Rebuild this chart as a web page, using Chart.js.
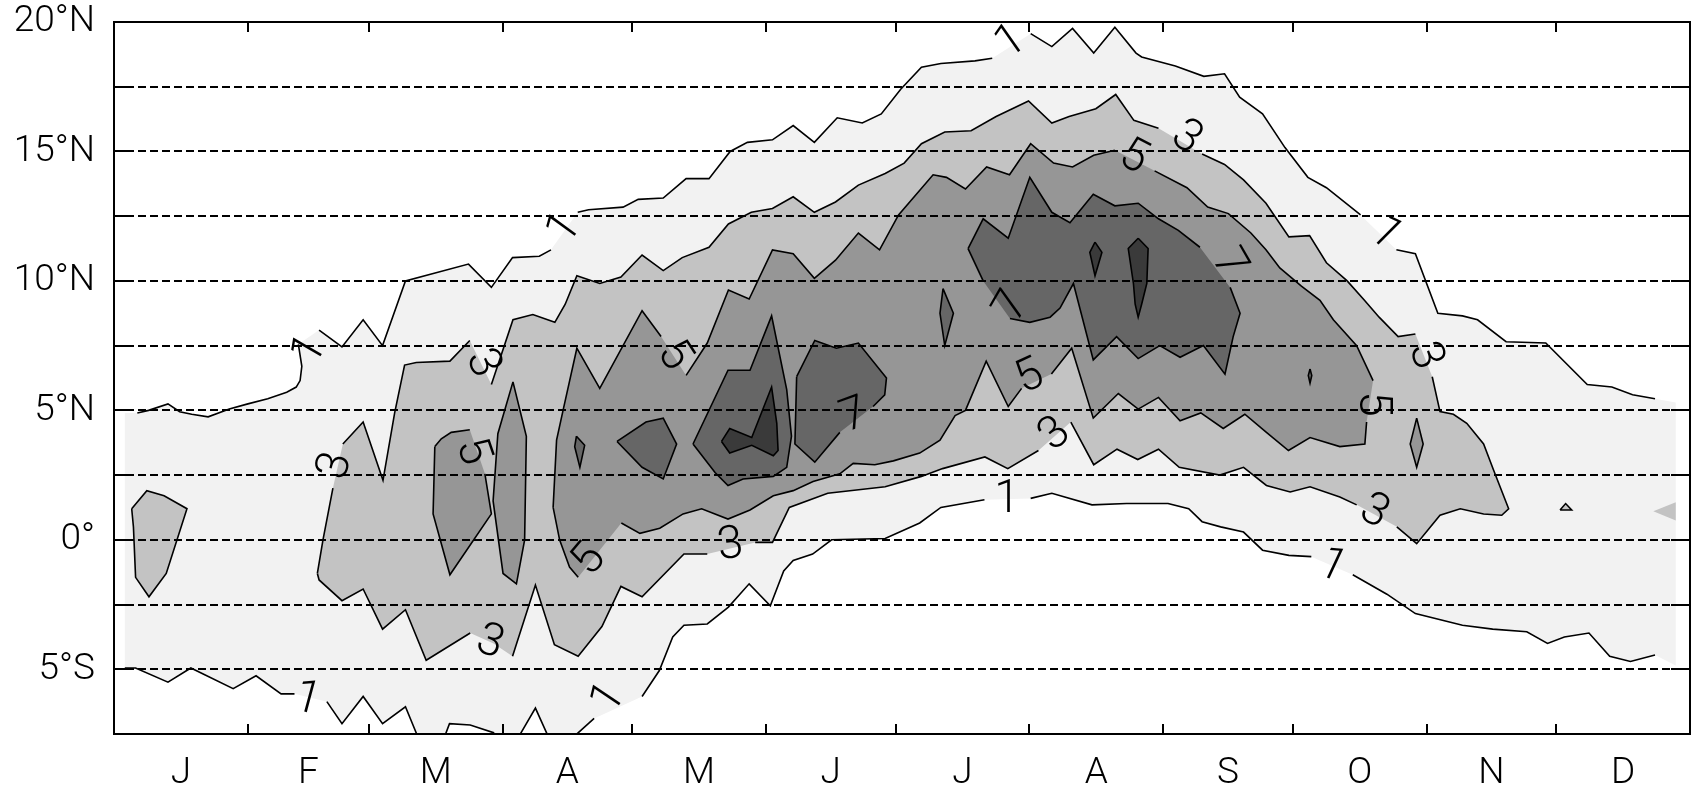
<!DOCTYPE html>
<html><head><meta charset="utf-8">
<script src="https://cdn.jsdelivr.net/npm/chart.js@4.4.1/dist/chart.umd.min.js"></script>
<style>html,body{margin:0;padding:0;background:#fff}#wrap{width:1692px;height:785px}</style>
</head><body><div id="wrap"><canvas id="c" width="1692" height="785"></canvas></div>
<script>
// ---- axes ----
const monthNames = ['J','F','M','A','M','J','J','A','S','O','N','D'];
const monthStartDays = [0,31,59,90,120,151,181,212,243,273,304,334,365];
const latTickValues = [-5,-2.5,0,2.5,5,7.5,10,12.5,15,17.5,20];
const latTickText = {'20':'20°N','15':'15°N','10':'10°N','5':'5°N','0':'0°','-5':'5°S'};

// ---- contour regions: [day of year, latitude, 1 = no line drawn on the following edge] ----
const level1Region = [[2.5,4.9,1],[5.4,4.9],[8,5.0],[12.5,5.25],[15.2,4.95],[18,4.85],[21.8,4.75],[26.7,5.05],[31,5.25],[35.6,5.45],[40,5.7],[42.2,5.9],[43.1,6.15],[43.5,6.7],[42.7,7.55,1],[47.5,8.1],[52.8,7.45],[57.7,8.5],[62.2,7.5],[67.5,10.0],[82.1,10.65],[87.4,9.75],[92.3,10.9],[98.5,10.95],[101.2,11.2,1],[107.4,12.65],[109.9,12.75],[117.9,12.85],[121.4,13.15],[127.2,13.2],[132.5,13.95],[137.8,13.95],[142.7,15.0],[146.7,15.35],[152.5,15.45],[157.3,16.0],[162.2,15.35],[167.5,16.3],[173.3,16.1],[177.7,16.45],[182.2,17.4],[187,18.25],[191.5,18.4],[199.4,18.5],[203.4,18.6,1],[212.3,19.55],[217.2,19.05],[222,19.75],[226.9,18.8],[231.8,19.8],[236.7,18.8],[238,18.65],[245.8,18.3],[252.4,17.9],[257.2,18.0],[260.7,17.1],[266,16.45],[271.2,15.15],[276.5,14.0],[280.8,13.6],[288.7,12.55,1],[297,11.2],[301.4,11.05],[306.6,8.75],[312.3,8.65],[315.8,8.5],[322.4,7.65],[331.6,7.6],[341.2,6.0],[346.9,5.9],[351.7,5.6],[356.9,5.45,1],[361.7,5.3,1],[361.7,-4.85,1],[356.9,-4.45],[351.2,-4.7],[346.4,-4.5],[341.6,-3.6],[335.9,-3.75],[332,-4.0],[327.2,-3.55],[319.3,-3.45],[312.3,-3.3],[301.4,-2.85],[294.8,-2.1],[286.9,-1.35,1],[277.3,-0.65],[272.1,-0.6],[266,-0.4],[261.6,0.3],[256.3,0.5],[252,0.7],[248.9,1.2],[244.1,1.4],[234.5,1.4],[226.5,1.35],[217.2,1.8],[212.3,1.6,1],[201.6,1.55],[191.5,1.25],[186.6,0.65],[178.6,0.05],[166.2,0],[161.8,-0.55],[157.3,-0.8],[155.1,-1.2],[152,-2.55],[147.1,-1.7],[142.3,-2.6],[137.4,-3.25],[132,-3.3],[129.4,-3.75],[126.3,-5.05],[122.3,-6.05,1],[111.2,-6.9],[107.2,-7.5],[106,-8.5],[101,-8.5],[100.3,-7.5],[97.6,-6.5],[94.1,-7.5],[93,-8.5],[89,-8.5],[87.9,-7.45],[82.5,-7.15],[77.7,-7.1],[76.8,-7.5],[76,-8.5],[72,-8.5],[70.1,-7.5],[67.5,-6.45],[62.2,-7.1],[57.7,-6.05],[52.8,-7.1],[49.3,-6.25,1],[41.8,-5.95],[38.7,-5.95],[32.9,-5.25],[27.6,-5.75],[17.8,-4.95],[12.5,-5.5],[5,-4.95],[2.5,-4.95,1]];

const level3Main = [[47.1,-1.3],[48.4,0],[50.7,2.0,1],[53,3.7],[57.7,4.55],[62.3,2.3],[65,4.9],[67.3,6.75],[70,6.85],[77.8,6.9],[82.4,7.7,1],[87.4,6.0],[92.4,8.5],[97,8.7],[102.1,8.4],[104.5,9.1],[107.2,10.2],[112.5,9.9],[117.4,10.15],[122.3,11.0],[127.2,10.4],[131.6,10.9],[137.8,11.3],[142.3,12.2],[147.6,12.65],[152.5,12.8],[157.3,13.25],[162.2,12.65],[167.1,13.05],[172.4,13.7],[178.6,14.15],[183,14.55],[187,15.3],[192.4,15.75],[198.5,15.8],[204.3,16.35],[211.8,16.95],[217.2,16.1],[221.2,16.35],[227.4,16.65],[232,17.2],[236.2,16.2],[241.9,15.9,1],[252,14.9],[257.2,14.5],[261.6,13.9],[266.8,13.0],[272.1,11.7],[276.9,11.75],[280.8,10.7],[285.6,10.0],[289.6,9.25],[293,8.6],[297.4,7.85],[301.4,7.95,1],[305.3,6.3],[307.1,4.95],[310.2,4.85],[313.3,4.5],[317.2,3.7],[319.5,2.7],[323,1.2],[321.4,0.95],[317.2,1.0],[311.8,1.2],[307.1,0.95],[301.7,-0.15],[297.1,0.5,1],[287.8,1.35],[283.9,1.65],[277,2.05],[272.4,1.85],[266.9,2.1],[261.6,2.8],[256.1,2.5],[246.7,2.8],[241.9,3.5],[237.1,3.1],[232.3,3.5],[226.9,2.9],[221.6,4.55,1],[214.1,3.45],[207,2.75],[201.7,3.2],[191.9,2.75],[187,2.45],[178.6,2.05],[165.3,1.8],[156.4,1.25],[152.5,-0.1],[148.5,-0.1,1],[137.4,-0.55],[132,-0.55],[122.3,-2.2],[117.4,-1.8],[113,-3.35],[107.5,-4.5],[102,-4.05],[97.6,-1.75],[92.3,-4.5,1],[87.9,-4.0,1],[82.5,-3.6],[72.3,-4.65],[67.5,-2.7],[62.2,-3.45],[57.7,-1.9],[52.8,-2.35],[47.5,-1.55]];
const level3Jan = [[4.1,1.2],[7.6,1.9],[11.6,1.7],[16.9,1.2],[12.1,-1.3],[8.1,-2.2],[5,-1.45],[4.5,0.5]];
const level3Nov = [[334.9,1.15],[336.2,1.4],[337.6,1.15]];
const level3Dec = [[356.5,1.1,1],[361.7,1.45,1],[361.7,0.75,1]];

const level5Mar = [[74.3,3.6],[75.8,3.9],[78.1,4.15],[82.4,4.25,1],[85.9,2.55],[87.4,1.0],[77.8,-1.35],[73.9,1.0]];
const level5Apr = [[92.4,6.1],[95.5,4.0],[95.1,0],[93.2,-1.7],[90.1,-1.3],[87.8,1.5],[88.9,4.1]];
const level5Main = [[101.7,1.25],[102.5,3.85],[104,5.0],[107.2,7.4],[112.5,5.85],[122.3,8.85],[126.7,7.85,1],[132.5,6.35],[137.4,7.6],[142.3,9.65],[147.1,9.3],[152.5,11.2],[157.3,11.05],[162.2,10.1],[167.1,10.8],[172.4,11.85],[177.3,11.2],[181.7,12.55],[189.7,14.1],[192.8,14.0],[197.2,13.55],[202.1,14.4],[207.4,14.1],[212.3,15.3],[217.6,14.55],[222,14.4],[226.9,14.85],[231.8,15.05,1],[241,14.25],[248.5,13.6],[253.3,12.85],[258.1,12.6],[263.3,11.85],[266.8,11.2],[270,10.5],[275,9.8],[279.3,9.25],[282.4,8.5],[287.8,7.5],[291.6,6.15,1],[290.1,4.55],[289.7,3.7],[283.9,3.6],[277,3.95],[272,3.45],[266.9,4.15],[261.9,4.85],[256.9,4.3],[251.7,4.9],[246.9,4.6],[241.9,5.5],[237.2,5.05],[232.6,5.65],[226.8,4.7],[221.8,7.4],[217.1,6.4,1],[210.2,5.85],[207.1,5.15],[202,6.9],[197.2,5.0],[194.8,4.8],[191.3,3.85],[186.6,3.35],[180.5,3.05],[176.2,2.9],[171.2,2.95],[168.1,2.55],[161.9,2.25],[157.3,1.9],[152.7,1.7],[147.3,1.15],[142.2,0.8],[136.1,1.2],[131.8,1.0],[126.4,0.45],[121.8,0.25],[117.5,0.65,1],[107.5,-1.45],[105.5,-1.05],[103.2,0]];
const level5Oct = [[301.7,4.7],[303.2,3.7],[301.7,2.8],[300.2,3.7]];

const level7Apr = [[107.1,4.0],[109,3.65],[107.9,2.8],[106.7,3.6]];
const level7AprMay = [[116.5,3.8],[123.2,4.55],[127.2,4.7],[130.3,3.7],[127.2,2.35],[122.3,2.8]];
const level7May = [[134.1,3.7],[142.2,6.55],[147.3,6.55],[152.3,8.65],[155.8,5.8],[156.9,4.0],[155.8,2.8],[152.7,2.45],[145.7,2.35],[142.2,2.1],[139.2,2.6]];
const level7Jun = [[158.1,6.3],[162.3,7.7],[167.3,7.4],[172.4,7.6],[178.9,6.25],[178.5,5.6],[175.8,5.15,1],[168.1,4.15],[162.3,3.0],[157.7,3.7]];
const level7Jul = [[192,9.7],[194.4,8.75],[192.4,7.5],[191.3,8.75]];
const level7Aug = [[197.8,11.25],[201.3,12.4],[207.1,11.65],[212.1,14.0],[217.2,12.65],[221.4,12.25],[226.8,13.35],[231.8,12.9],[237.2,13.0],[241.9,12.4],[246.5,11.95],[251.5,11.3,1],[258.5,9.75],[260.8,8.75],[259.2,7.85],[257.3,6.4],[252.3,7.5],[246.9,7.05],[242.2,7.5],[237.2,7.0],[232.2,7.85],[226.8,6.95],[222.2,9.9],[219.1,8.95],[216.8,8.6],[212.1,8.4],[207.5,8.55,1],[201.3,10.0]];
const level7Oct = [[277,6.6],[277.4,6.35],[277,6.05],[276.6,6.35]];

const level9May = [[140.7,3.8],[142.6,4.3],[147.7,3.95],[152.3,5.9],[153.5,4.5],[153.8,3.45],[152.7,3.25],[147.7,3.65],[142.6,3.35]];
const level9AugA = [[227.2,11.5],[228.8,11.1],[227.2,10.2],[226,11.1]];
const level9AugB = [[237.2,11.65],[239.5,11.25],[239.2,9.9],[238,9.1],[237.2,8.6],[236.5,9.1],[236.1,9.9],[234.9,11.25]];

// ---- contour labels ----
const contourLabelText  = ['1','1','1','1','1','1','1','1','3','3','3','3','3','3','3','3','5','5','5','5','5','5','7','7','7'];
const contourLabelDay   = [45.5,104.5,207.8,294.3,44.7,114.7,206.8,282,51.5,85.2,87,142.8,218,248.3,303.5,291.8,82.8,110.2,129.5,212.2,236,291.3,171.5,208.2,258];
const contourLabelLat   = [7.3,12.0,19.2,11.8,-6.2,-6.15,1.5,-1.05,2.85,6.8,-4.0,-0.25,4.05,15.5,7.1,1.05,3.4,-0.8,7.1,6.25,14.75,5.25,4.75,9.0,10.65];
const contourLabelAngle = [-60,-54,-35,45,15,-56,0,25,-75,65,20,-8,-40,35,70,28,71,-50,57,-25,27,90,-20,-60,60];

const levelColor = {1:'#f2f2f2',3:'#c3c3c3',5:'#969696',7:'#666666',9:'#3a3a3a'};
const regions = [
  [level1Region,1],
  [level3Main,3],[level3Jan,3],[level3Nov,3],[level3Dec,3],
  [level5Mar,5],[level5Apr,5],[level5Main,5],[level5Oct,5],
  [level7Apr,7],[level7AprMay,7],[level7May,7],[level7Jun,7],[level7Jul,7],[level7Aug,7],[level7Oct,7],
  [level9May,9],[level9AugA,9],[level9AugB,9]
];

function toPoints(arr){
  const p = arr.map(v=>({x:v[0],y:v[1],h:v[2]?1:0}));
  p.push({x:arr[0][0],y:arr[0][1],h:0});
  return p;
}

const datasets = [];
regions.forEach(([arr,lvl])=>{
  datasets.push({data:toPoints(arr),fill:'shape',backgroundColor:levelColor[lvl],borderColor:'rgba(0,0,0,0)',borderWidth:0,pointRadius:0,order:60-lvl*5});
});
regions.forEach(([arr,lvl])=>{
  datasets.push({data:toPoints(arr),fill:false,borderColor:'#000',borderWidth:1.6,pointRadius:0,order:1,
    segment:{borderColor:c=>{const d=c.chart.data.datasets[c.datasetIndex].data[c.p0DataIndex];return d&&d.h?'rgba(0,0,0,0)':'#000';}}});
});

const decor = {
  id:'decor',
  afterDraw(chart){
    const {ctx, chartArea:a, scales:{x,y}} = chart;
    ctx.save();
    ctx.strokeStyle='#000'; ctx.lineWidth=2;
    ctx.beginPath();
    monthStartDays.slice(1,-1).forEach(d=>{const px=Math.round(x.getPixelForValue(d));ctx.moveTo(px,a.top);ctx.lineTo(px,a.top+10);ctx.moveTo(px,a.bottom);ctx.lineTo(px,a.bottom-10);});
    latTickValues.slice(0,-1).forEach(v=>{const py=Math.round(y.getPixelForValue(v));ctx.moveTo(a.left,py);ctx.lineTo(a.left+19,py);ctx.moveTo(a.right,py);ctx.lineTo(a.right-19,py);});
    ctx.stroke();
    ctx.lineWidth=2;
    ctx.strokeRect(a.left,a.top,a.right-a.left,a.bottom-a.top);
    ctx.beginPath(); ctx.rect(a.left,a.top,a.right-a.left,a.bottom-a.top); ctx.clip();
    ctx.fillStyle='#000'; ctx.font='300 46px Roboto'; ctx.textAlign='center'; ctx.textBaseline='middle';
    contourLabelText.forEach((t,i)=>{
      ctx.save();
      ctx.translate(x.getPixelForValue(contourLabelDay[i]), y.getPixelForValue(contourLabelLat[i]));
      ctx.rotate(contourLabelAngle[i]*Math.PI/180);
      ctx.fillText(t,0,0);
      ctx.restore();
    });
    ctx.restore();
  }
};

function noPad(s){s.paddingTop=0;s.paddingBottom=0;s.paddingLeft=0;s.paddingRight=0;}

new Chart(document.getElementById('c'),{
  type:'line',
  data:{datasets},
  options:{
    responsive:false, animation:false, devicePixelRatio:1,
    layout:{padding:{top:22,right:2,left:0,bottom:0}},
    elements:{line:{tension:0},point:{radius:0}},
    plugins:{legend:{display:false},tooltip:{enabled:false}},
    scales:{
      x:{type:'linear',min:0,max:365,position:'bottom',
        afterBuildTicks:s=>{s.ticks=monthNames.map((m,i)=>({value:(monthStartDays[i]+monthStartDays[i+1])/2}));},
        afterFit:s=>{s.height=51;noPad(s);},
        ticks:{autoSkip:false,maxRotation:0,padding:10,color:'#000',font:{family:'Roboto',weight:'300',size:37},callback:(v,i)=>monthNames[i]},
        grid:{display:false},border:{display:false}},
      y:{type:'linear',min:-7.5,max:20,
        afterBuildTicks:s=>{s.ticks=latTickValues.map(v=>({value:v}));},
        afterFit:s=>{s.width=114;noPad(s);},
        ticks:{autoSkip:false,padding:19,color:'#000',font:{family:'Roboto',weight:'300',size:37},callback:v=>latTickText[String(v)]||''},
        grid:{z:1,color:'#000',lineWidth:2,drawTicks:false},
        border:{display:false,dash:[8,4]}}
    }
  },
  plugins:[decor]
});
</script></body></html>
